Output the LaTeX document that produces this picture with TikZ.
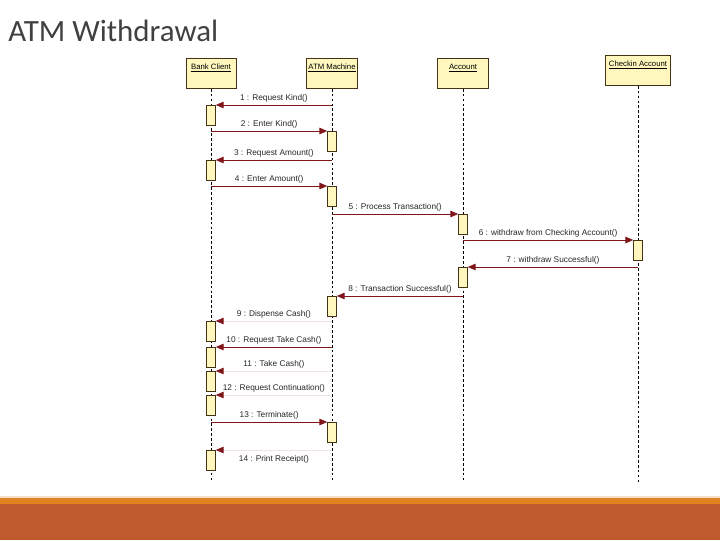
\documentclass[tikz,border=0pt]{standalone}
\usepackage{fontspec}
\setmainfont{Liberation Sans}
\newfontfamily\titlefont{Carlito}
\definecolor{atmred}{RGB}{128,22,26}
\definecolor{atmyellow}{RGB}{255,247,190}
\definecolor{atmborder}{RGB}{70,50,20}
\definecolor{atmtitle}{RGB}{64,64,64}
\definecolor{baramber}{RGB}{224,130,32}
\definecolor{barrust}{RGB}{190,90,46}
\usetikzlibrary{arrows.meta,positioning}

\tikzset{
  head/.style={draw=atmborder, fill=atmyellow, inner sep=1pt, text height=6.8pt, text depth=12.5pt, font=\fontsize{5.5}{6}\selectfont},
  act/.style={draw=atmborder, fill=atmyellow, anchor=north, inner sep=0pt, minimum width=0.225cm, minimum height=0.5cm},
  lifeline/.style={black, thin, dash pattern=on 2pt off 1.5pt},
  msg/.style={atmred, semithick, -{Triangle[length=5.5pt,width=4.6pt]}},
  faint/.style={draw=atmred!12, thin, -{Triangle[length=5.5pt,width=4.6pt,color=atmred]}},
  lbl/.style={font=\fontsize{5.9}{6.5}\selectfont, text=black!85, inner sep=1.5pt}
}

\begin{document}
\begin{tikzpicture}[x=0.025cm, y=-0.025cm]
  \useasboundingbox (0,0) rectangle (720,540);

  % Title
  \node[font=\titlefont\fontsize{22}{24}\selectfont, text=atmtitle, anchor=base west, inner sep=0] (title) at (8,41.5) {ATM Withdrawal};

  % Lifeline heads
  \node[head, minimum width=1.25cm] (client) at (211,73.5) {\underline{Bank Client}};
  \node[head, minimum width=1.275cm] (atm) at (332,73.5) {\underline{ATM Machine}};
  \node[head, minimum width=1.275cm] (account) at (463,73.5) {\underline{Account}};
  \node[head, minimum width=1.625cm] (checkin) at (638,70.5) {\underline{Checkin Account}};

  % Lifelines
  \coordinate (clientend) at (211,482);
  \coordinate (atmend) at (332,482);
  \coordinate (accountend) at (463,482);
  \coordinate (checkinend) at (638,482);
  \draw[lifeline] (client.south) -- (clientend);
  \draw[lifeline] (atm.south) -- (atmend);
  \draw[lifeline] (account.south) -- (accountend);
  \draw[lifeline] (checkin.south) -- (checkinend);

  % Activation bars
  \node[act] (c1) at (211,105) {};
  \node[act] (a2) at (332,131) {};
  \node[act] (c3) at (211,160) {};
  \node[act] (a4) at (332,186) {};
  \node[act] (b5) at (463,214) {};
  \node[act] (k6) at (638,240) {};
  \node[act] (b7) at (463,267) {};
  \node[act] (a8) at (332,296) {};
  \node[act] (c9) at (211,321) {};
  \node[act] (c10) at (211,347) {};
  \node[act] (c11) at (211,371) {};
  \node[act] (c12) at (211,395) {};
  \node[act] (a13) at (332,422) {};
  \node[act] (c14) at (211,450) {};

  % Messages
  \draw[msg] (atm |- c1.north) -- (c1.north east) node[lbl, midway, above] {1 : Request Kind()};
  \draw[msg] (client |- a2.north) -- (a2.north west) node[lbl, midway, above] {2 : Enter Kind()};
  \draw[msg] (atm |- c3.north) -- (c3.north east) node[lbl, midway, above] {3 : Request Amount()};
  \draw[msg] (client |- a4.north) -- (a4.north west) node[lbl, midway, above] {4 : Enter Amount()};
  \draw[msg] (atm |- b5.north) -- (b5.north west) node[lbl, midway, above] {5 : Process Transaction()};
  \draw[msg] (account |- k6.north) -- (k6.north west) node[lbl, midway, above] {6 : withdraw from Checking Account()};
  \draw[msg] (checkin |- b7.north) -- (b7.north east) node[lbl, midway, above] {7 : withdraw Successful()};
  \draw[msg] (account |- a8.north) -- (a8.north east) node[lbl, midway, above] {8 : Transaction Successful()};
  \draw[faint] (atm |- c9.north) -- (c9.north east) node[lbl, midway, above] {9 : Dispense Cash()};
  \draw[msg] (atm |- c10.north) -- (c10.north east) node[lbl, midway, above] {10 : Request Take Cash()};
  \draw[faint] (atm |- c11.north) -- (c11.north east) node[lbl, midway, above] {11 : Take Cash()};
  \draw[faint] (atm |- c12.north) -- (c12.north east) node[lbl, midway, above] {12 : Request Continuation()};
  \draw[msg] (client |- a13.north) -- (a13.north west) node[lbl, midway, above] {13 : Terminate()};
  \draw[faint] (atm |- c14.north) -- (c14.north east) node[lbl, midway, below=2pt] {14 : Print Receipt()};

  % Footer band
  \fill[baramber!25] (0,496) rectangle (720,497.5);
  \fill[baramber] (0,497.5) rectangle (720,504);
  \fill[barrust] (0,504) rectangle (720,540);
\end{tikzpicture}
\end{document}
